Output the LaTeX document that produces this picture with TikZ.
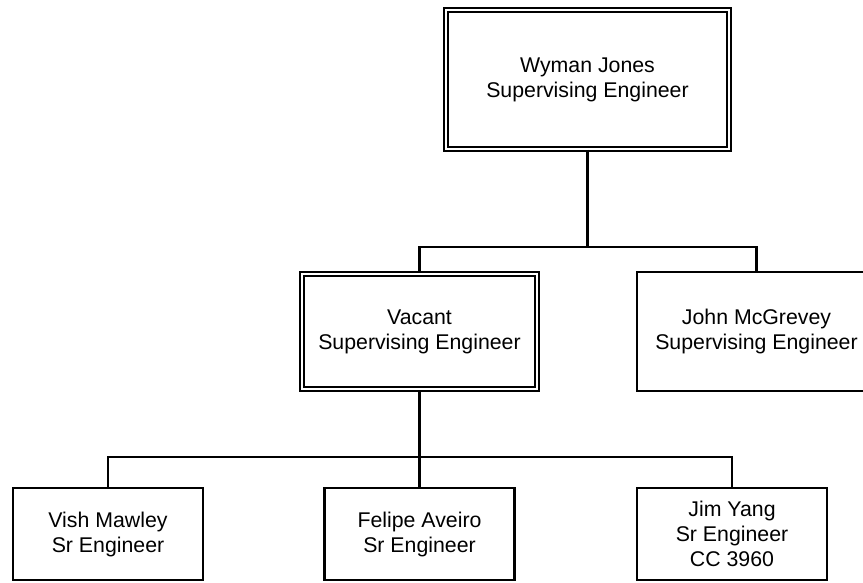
\documentclass[tikz,border=0pt]{standalone}
\usepackage{fontspec}
\setmainfont{Liberation Sans}
\usetikzlibrary{positioning}

\tikzset{
  chief/.style={draw, double, double distance=2.2pt, line width=1.8pt,
    align=center, inner sep=0pt},
  staff/.style={draw, line width=2.2pt, align=center, inner sep=0pt},
}

\begin{document}
\begin{tikzpicture}[x=1pt, y=-1pt, line width=2.2,
    font=\fontsize{21.3}{25}\selectfont]
		\clip (0,0) rectangle (863,583);

		\node[chief, minimum width=283.5, minimum height=139] (wyman) at (587.5, 79.5) {Wyman Jones\\Supervising Engineer};

		\node[chief, minimum width=235.5, minimum height=115.5] (vacant) at (419.5, 331.5) {Vacant\\Supervising Engineer};
		\node[staff, minimum width=239, minimum height=119] (mcgrevey) at (756.5, 331.5) {John McGrevey\\Supervising Engineer};

		\node[staff, minimum width=190, minimum height=92] (vish) at (108, 534) {Vish Mawley\\Sr Engineer};
		\node[staff, minimum width=190, minimum height=92] (felipe) at (419.5, 534) {Felipe Aveiro\\Sr Engineer};
		\node[staff, minimum width=190, minimum height=92] (jim) at (732, 534) {Jim Yang\\Sr Engineer\\CC 3960};

		% first level
		\coordinate (bus1) at (0, 247);
		\draw (wyman.south) -- (wyman.south |- bus1) -| (vacant.north);
		\draw (wyman.south |- bus1) -| (mcgrevey.north);

		% second level
		\coordinate (bus2) at (0, 457);
		\draw (vacant.south) -- (felipe.north);
		\draw (vacant.south |- bus2) -| (vish.north);
		\draw (vacant.south |- bus2) -| (jim.north);
	\end{tikzpicture}
\end{document}
